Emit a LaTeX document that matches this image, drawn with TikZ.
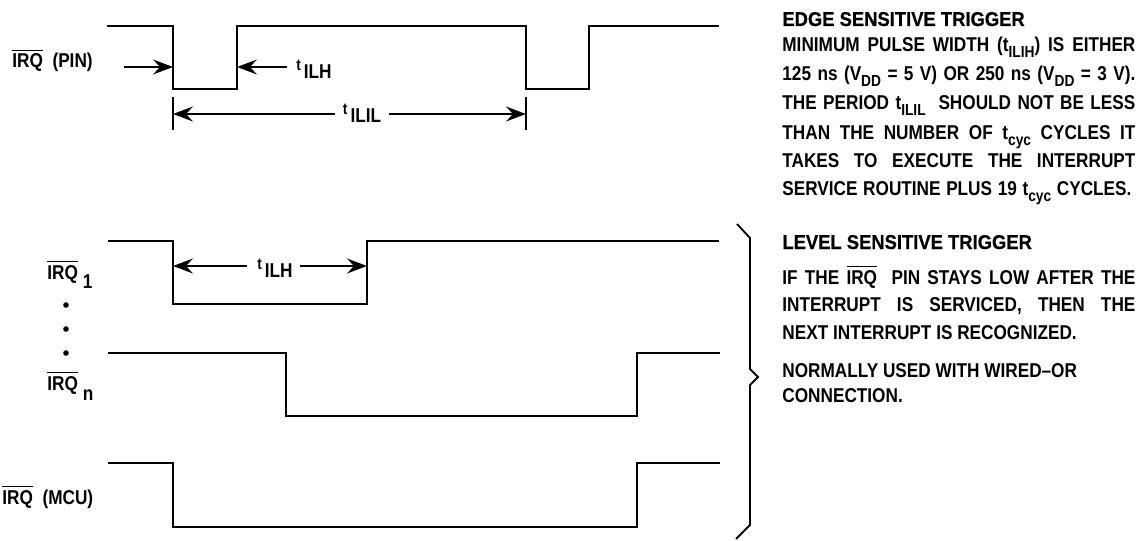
\documentclass[tikz,border=0pt]{standalone}
\usepackage{fontspec}
\setmainfont{Liberation Sans}[FakeStretch=0.86]
\newfontfamily\headfont{Liberation Sans}[FakeStretch=0.92,FakeBold=0.6]
\usetikzlibrary{arrows.meta}
\newcommand\irq{\leavevmode\vbox{\hrule height 0.6pt\kern 1.3pt\hbox{IRQ}}}
\newcommand\sbs[1]{\raisebox{-3pt}{\fontsize{8}{9}\selectfont #1}}
\newcommand\tlab[1]{\raisebox{4pt}{\fontsize{8}{9}\selectfont t}\hspace{1.5pt}{\fontsize{10}{11}\selectfont #1}}
\newcommand\jl[2][176.5pt]{\makebox[#1][s]{#2}}
\begin{document}
\begin{tikzpicture}[x=0.5pt,y=-0.5pt,
  wave/.style={line width=1.4pt,line join=miter},
  dim/.style={line width=0.8pt,-{Stealth[length=10pt,width=7.5pt,inset=3.5pt]}},
  tickmark/.style={line width=0.8pt},
  lab/.style={inner sep=0pt,font=\bfseries\fontsize{10}{12}\selectfont},
  txt/.style={inner sep=0pt,anchor=base west,font=\bfseries\fontsize{10}{12}\selectfont},
  hd/.style={inner sep=0pt,anchor=base west,font=\headfont\bfseries\fontsize{10}{12}\selectfont}]
\useasboundingbox (0,0) rectangle (1144,540);
% waveforms
\draw[wave] (107,26) -- (173,26) -- (173,89) -- (237,89) -- (237,26) -- (526,26) -- (526,89) -- (589,89) -- (589,26) -- (719,26);
\draw[wave] (108,241) -- (173,241) -- (173,304) -- (367,304) -- (367,241) -- (719,241);
\draw[wave] (108,353) -- (286,353) -- (286,416) -- (637,416) -- (637,353) -- (720,353);
\draw[wave] (108,463) -- (173,463) -- (173,527) -- (637,527) -- (637,463) -- (720,463);
% left labels
\node[lab,anchor=base west] (pin) at (12,68) {\irq\ \ (PIN)};
\node[lab,anchor=base west] (irq1) at (47,279) {\irq\ \raisebox{-4.5pt}{1}};
\node[lab,anchor=base west] (irqn) at (47,390) {\irq\ \raisebox{-5pt}{n}};
\node[lab,anchor=base west] (mcu) at (2,504) {\irq\ \ (MCU)};
\fill (66,305) circle (1.4pt);
\fill (66,329) circle (1.4pt);
\fill (66,353) circle (1.4pt);
% top dimensions
\coordinate (pa) at (124,67); \coordinate (fa) at (173,67);
\draw[dim] (pa) -- (fa);
\node[lab,anchor=base] (tilh) at (314,79) {\tlab{ILH}};
\coordinate (ta) at (287,67); \coordinate (ra) at (237,67);
\draw[dim] (ta) -- (ra);
\draw[tickmark] (173,97) -- (173,130);
\draw[tickmark] (526,97) -- (526,130);
\node[lab,anchor=base] (tilil) at (362,122) {\tlab{ILIL}};
\coordinate (la) at (335,114); \coordinate (lb) at (173,114);
\coordinate (lc) at (389,114); \coordinate (ld) at (526,114);
\draw[dim] (la) -- (lb);
\draw[dim] (lc) -- (ld);
% IRQ1 dimension
\node[lab,anchor=base] (tilh2) at (275,277) {\tlab{ILH}};
\coordinate (ma) at (247,266); \coordinate (mb) at (173,266);
\coordinate (mc) at (300,266); \coordinate (md) at (367,266);
\draw[dim] (ma) -- (mb);
\draw[dim] (mc) -- (md);
% brace
\draw[line width=0.9pt,line join=miter] (737,224) -- (750,238) -- (750,369) -- (758,377) -- (750,385) -- (750,525) -- (736,539);
% right text
\node[hd] (h1) at (782,26) {EDGE SENSITIVE TRIGGER};
\node[txt] (l1) at (782,52) {\jl{MINIMUM PULSE WIDTH (t\sbs{ILIH}) IS EITHER}};
\node[txt] (l2) at (782,81) {\jl{125 ns (V\sbs{DD} = 5 V) OR 250 ns (V\sbs{DD} = 3 V).}};
\node[txt] (l3) at (782,110) {\jl{THE PERIOD t\sbs{ILIL}\ \ SHOULD NOT BE LESS}};
\node[txt] (l4) at (782,139) {\jl{THAN THE NUMBER OF t\sbs{cyc} CYCLES IT}};
\node[txt] (l5) at (782,167) {\jl{TAKES TO EXECUTE THE INTERRUPT}};
\node[txt] (l6) at (782,195) {\jl[174.5pt]{SERVICE ROUTINE PLUS 19 t\sbs{cyc} CYCLES.}};
\node[hd] (h2) at (782,249) {LEVEL SENSITIVE TRIGGER};
\node[txt] (m1) at (782,284) {\jl{IF THE \irq\ \ PIN STAYS LOW AFTER THE}};
\node[txt] (m2) at (782,311) {\jl{INTERRUPT IS SERVICED, THEN THE}};
\node[txt] (m3) at (782,339) {NEXT INTERRUPT IS RECOGNIZED.};
\node[txt] (m4) at (782,377) {NORMALLY USED WITH WIRED–OR};
\node[txt] (m5) at (782,402) {CONNECTION.};
\end{tikzpicture}
\end{document}
